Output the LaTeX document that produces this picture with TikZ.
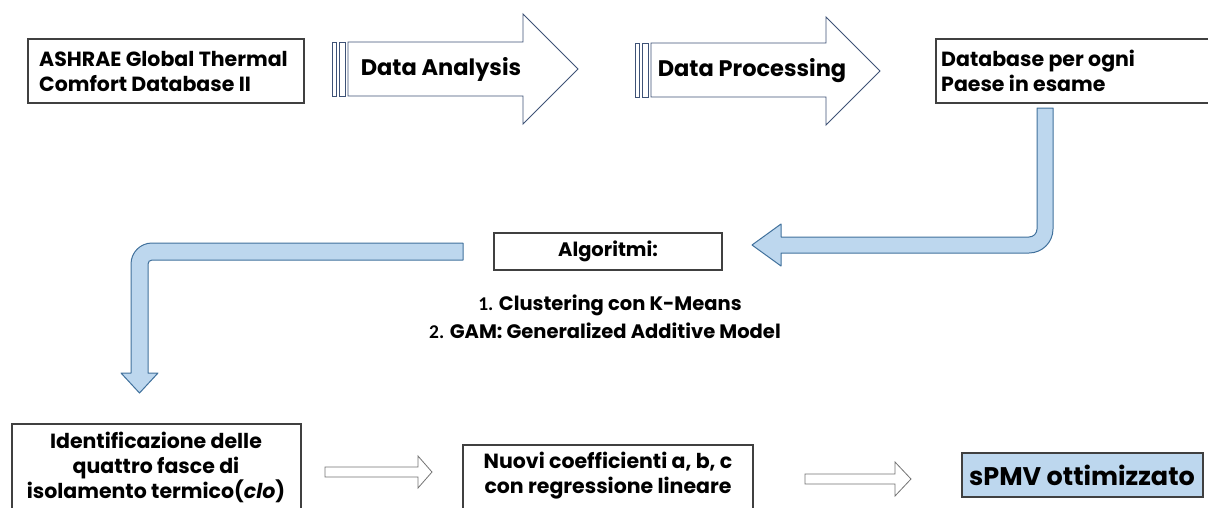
\documentclass[tikz,border=0pt]{standalone}
\usepackage{fontspec}
\setmainfont{Poppins}
\newfontfamily\numfont{Carlito}
\definecolor{lblue}{HTML}{BDD7EE}
\definecolor{bedge}{HTML}{41719C}
\definecolor{aedge}{HTML}{3E5276}
\definecolor{boxedge}{HTML}{404040}
\begin{document}
\begin{tikzpicture}[x=1pt,y=-1pt,
  box/.style={draw=boxedge,line width=1.1pt,fill=white},
  bigarrow/.style={draw=aedge,line width=0.9pt,fill=white},
  bluearrow/.style={draw=bedge,line width=1pt,fill=lblue,line join=round},
  thinarrow/.style={draw=black!55,line width=0.8pt,fill=white},
  txt/.style={inner sep=0pt,font=\bfseries\fontsize{20.5}{25}\selectfont},
  arrtxt/.style={inner sep=0pt,font=\bfseries\fontsize{22.5}{25}\selectfont},
  listtxt/.style={inner sep=0pt,font=\bfseries\fontsize{19.5}{22}\selectfont}]
\useasboundingbox (0,0) rectangle (1208,507);
% boxes
\draw[box] (28,39) rectangle (304,103);
\draw[box] (936,39) rectangle (1212,103);
\draw[box] (494,233) rectangle (722,270);
\draw[box] (12,424) rectangle (301,512);
\draw[box] (463,445) rectangle (753,512);
\draw[box,fill=lblue] (962,453) rectangle (1203,497);
% striped arrows
\draw[bigarrow] (332,42) rectangle (336,96);
\draw[bigarrow] (339,42) rectangle (345,96);
\draw[bigarrow] (348,42) -- (523,42) -- (523,14) -- (578,69) -- (523,124) -- (523,96) -- (348,96) -- cycle;
\draw[bigarrow] (635,43) rectangle (639,97);
\draw[bigarrow] (642,43) rectangle (648,97);
\draw[bigarrow] (651,43) -- (826,43) -- (826,17) -- (880,71) -- (826,125) -- (826,97) -- (651,97) -- cycle;
% blue bent arrows
\draw[bluearrow] (1037,108) -- (1053,108) -- (1053,229) arc[start angle=0,end angle=90,radius=24]
  -- (781,253) -- (781,266) -- (752,245) -- (781,224) -- (781,237) -- (1029,237)
  arc[start angle=90,end angle=0,radius=8] -- cycle;
\draw[bluearrow] (463,243) -- (152,243) arc[start angle=270,end angle=180,radius=21]
  -- (131,373) -- (121,373) -- (139.5,393) -- (158,373) -- (148,373) -- (148,264)
  arc[start angle=180,end angle=270,radius=4] -- (463,260) -- cycle;
% small arrows
\draw[thinarrow] (325,467) -- (418,467) -- (418,456) -- (432,472) -- (418,488) -- (418,477) -- (325,477) -- cycle;
\draw[thinarrow] (805,474) -- (895,474) -- (895,462) -- (911,479) -- (895,496) -- (895,484) -- (805,484) -- cycle;
% texts
\node[txt,anchor=west,align=left] (ashrae) at (39,71) {ASHRAE Global Thermal\\Comfort Database II};
\node[arrtxt] (da) at (441,69) {Data Analysis};
\node[arrtxt] (dp) at (752,71) {Data Processing};
\node[txt,anchor=west,align=left] (db) at (941,71) {Database per ogni\\Paese in esame};
\node[inner sep=0pt,font=\bfseries\fontsize{19.5}{22}\selectfont] (alg) at (608,251) {Algoritmi:};
\node[listtxt] (l1) at (610,305) {{\numfont 1.} Clustering con K-Means};
\node[listtxt] (l2) at (605,331) {{\numfont 2.} GAM: Generalized Additive Model};
\node[txt,align=center] (ide) at (156,467) {Identificazione delle\\quattro fasce di\\isolamento termico(\textit{clo})};
\node[txt,align=center] (nuovi) at (608,476) {Nuovi coefficienti a, b, c\\con regressione lineare};
\node[inner sep=0pt,font=\bfseries\fontsize{25.5}{28}\selectfont] (spmv) at (1082,475) {sPMV ottimizzato};
\end{tikzpicture}
\end{document}
